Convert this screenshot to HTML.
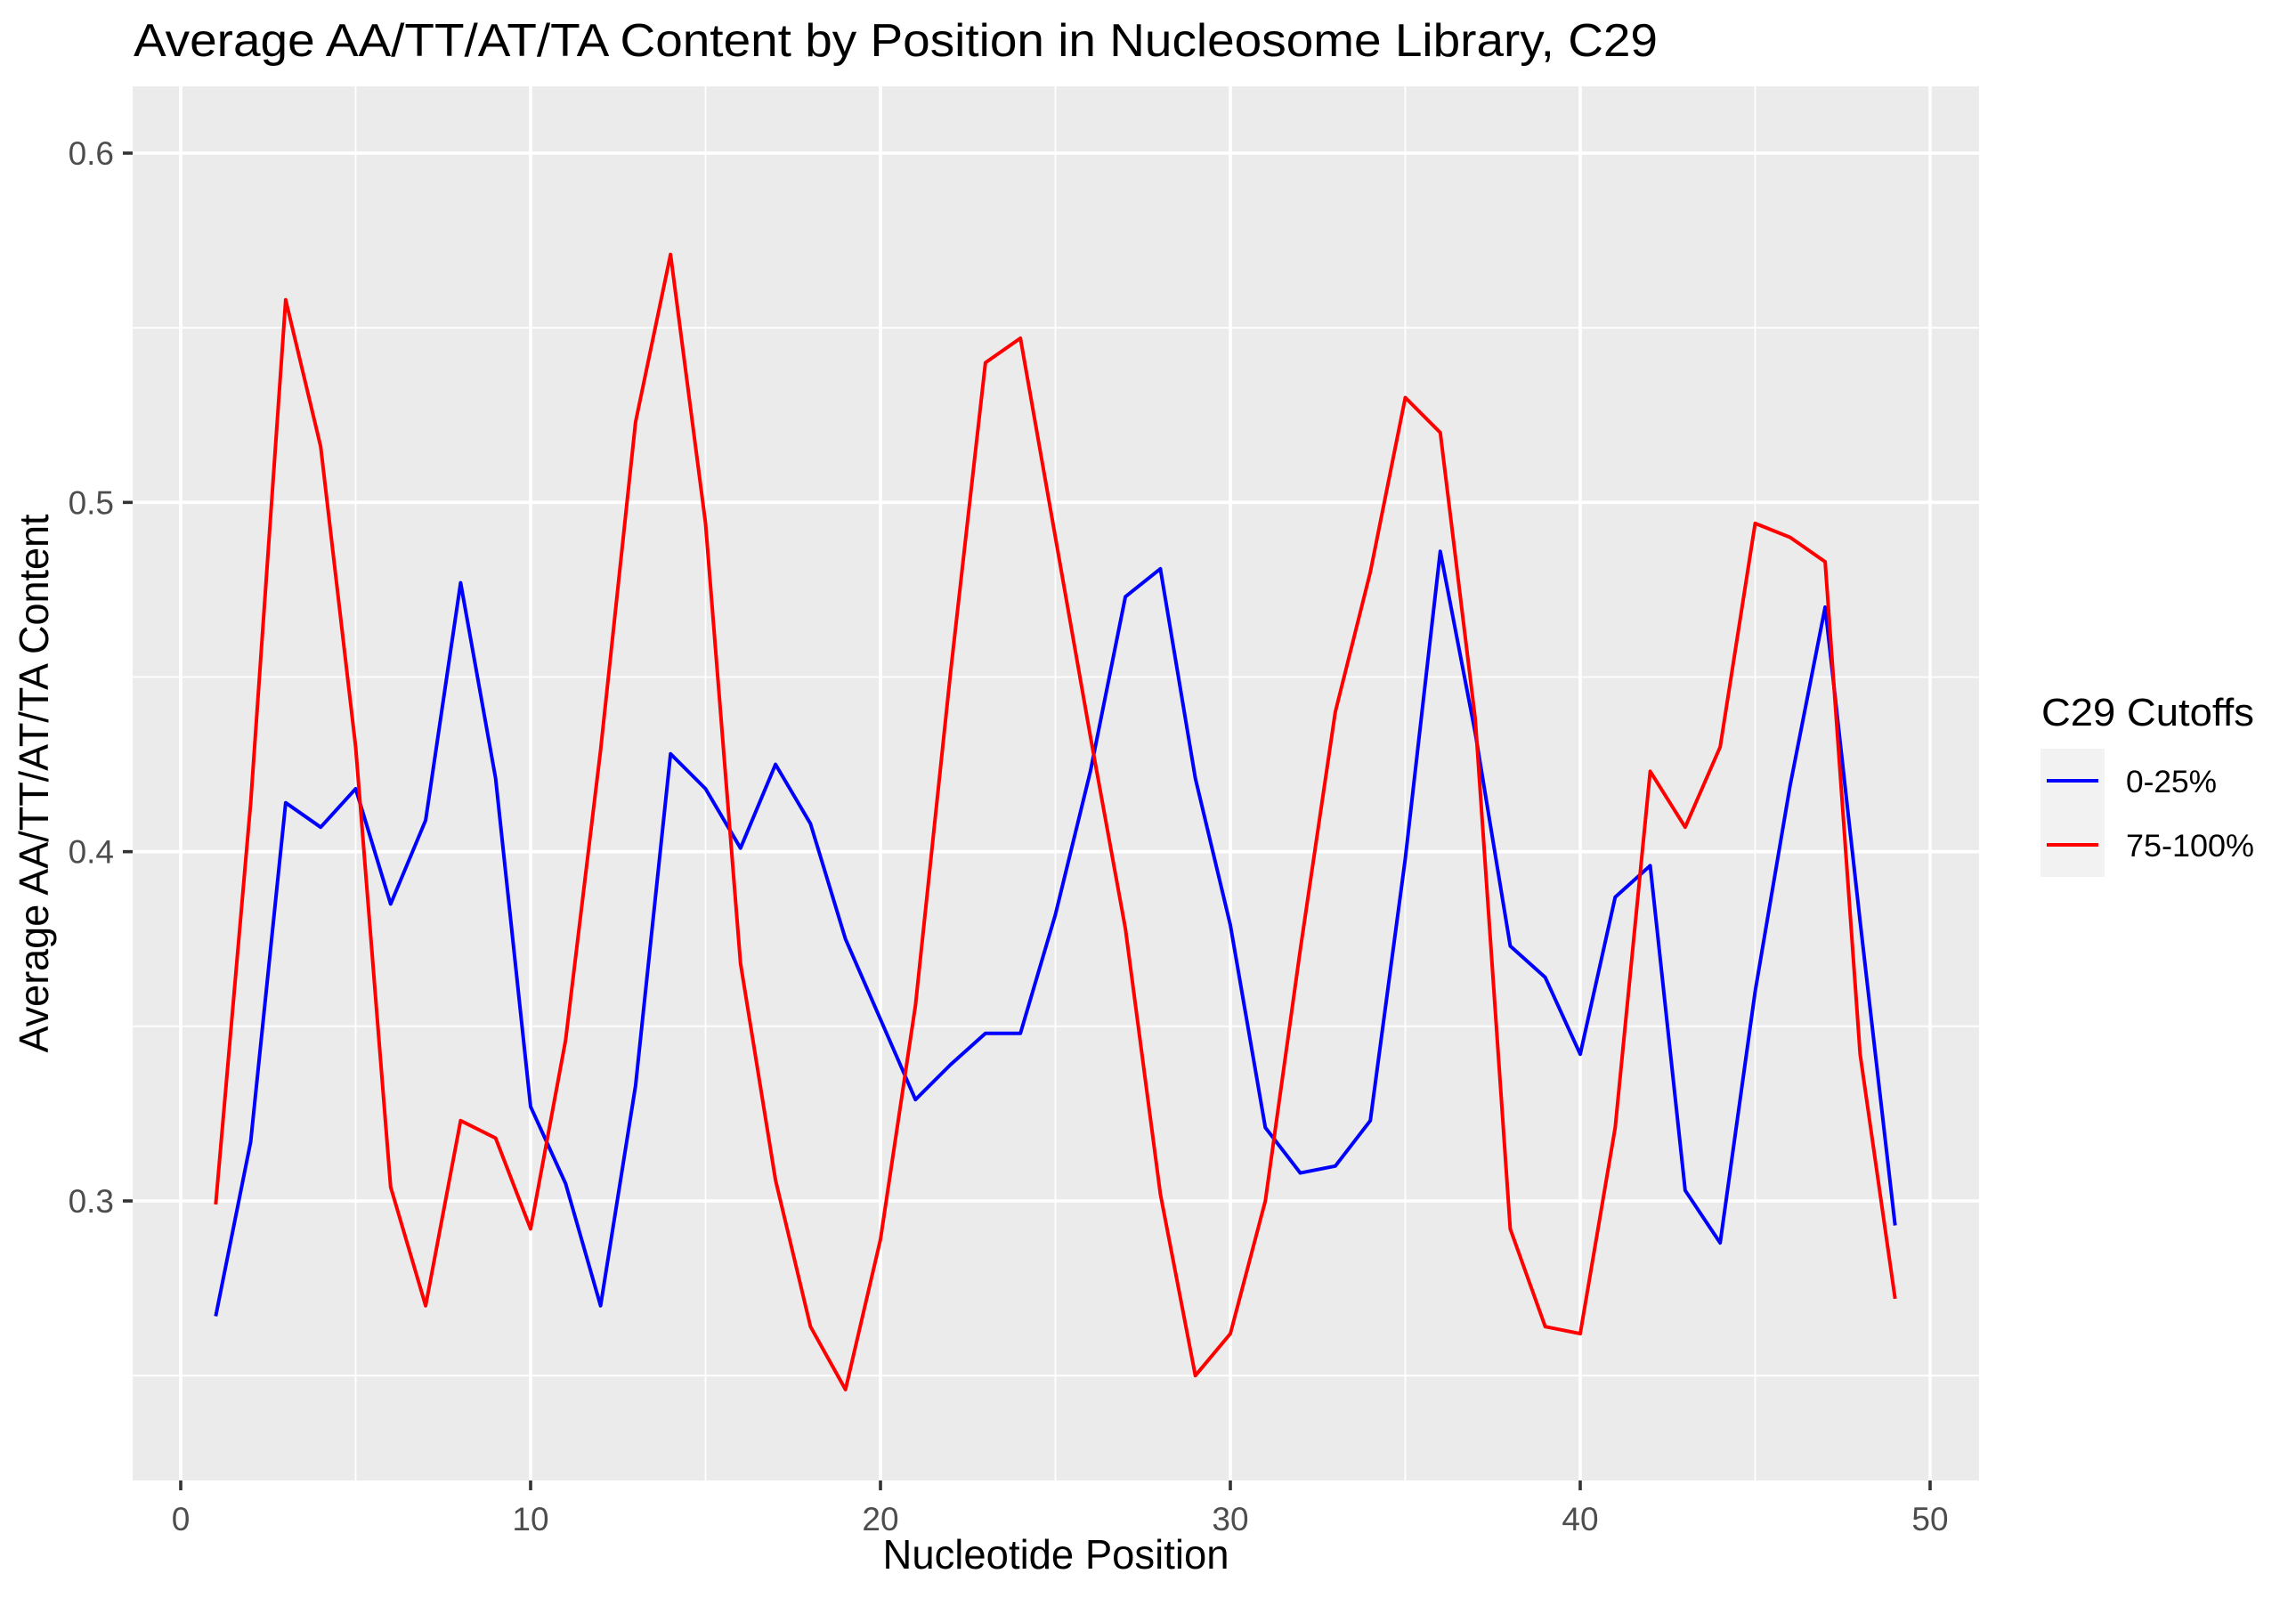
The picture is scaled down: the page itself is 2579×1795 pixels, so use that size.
<!DOCTYPE html>
<html><head><meta charset="utf-8"><style>
html,body{margin:0;padding:0;background:#fff;}
svg{display:block;font-family:"Liberation Sans",Arial,sans-serif;}
</style></head><body>
<svg id="chart" width="2579" height="1795" viewBox="0 0 2579 1795" xmlns="http://www.w3.org/2000/svg">
<rect x="0" y="0" width="2579" height="1795" fill="#fff"/>
<text x="150" y="63" font-size="52" textLength="1712" lengthAdjust="spacingAndGlyphs" fill="#000">Average AA/TT/AT/TA Content by Position in Nucleosome Library, C29</text>
<rect x="149" y="97" width="2074" height="1566" fill="#ebebeb"/>
<g id="grid"></g>
<g id="series"></g>
<g id="ticks"></g>
<text x="1186" y="1762" font-size="46" text-anchor="middle" textLength="389" lengthAdjust="spacingAndGlyphs" fill="#000">Nucleotide Position</text>
<text transform="translate(54,880) rotate(-90)" font-size="46" text-anchor="middle" textLength="605" lengthAdjust="spacingAndGlyphs" fill="#000">Average AA/TT/AT/TA Content</text>
<g>
<text x="2293" y="815" font-size="44" textLength="239" lengthAdjust="spacingAndGlyphs" fill="#000">C29 Cutoffs</text>
<rect x="2292" y="841" width="72" height="72" fill="#f2f2f2"/>
<rect x="2292" y="913" width="72" height="72" fill="#f2f2f2"/>
<line x1="2299" x2="2357" y1="877" y2="877" stroke="#0000ff" stroke-width="4"/>
<line x1="2299" x2="2357" y1="949" y2="949" stroke="#ff0000" stroke-width="4"/>
<text x="2388" y="890" font-size="35" textLength="102" lengthAdjust="spacingAndGlyphs" fill="#000">0-25%</text>
<text x="2388" y="962" font-size="35" textLength="144" lengthAdjust="spacingAndGlyphs" fill="#000">75-100%</text>
</g>
</svg>
<script>
const positions = [1,2,3,4,5,6,7,8,9,10,11,12,13,14,15,16,17,18,19,20,21,22,23,24,25,26,27,28,29,30,31,32,33,34,35,36,37,38,39,40,41,42,43,44,45,46,47,48,49];
const lowValues = [0.267,0.317,0.414,0.407,0.418,0.385,0.409,0.477,0.421,0.327,0.305,0.270,0.333,0.428,0.418,0.401,0.425,0.408,0.375,0.352,0.329,0.339,0.348,0.348,0.382,0.423,0.473,0.481,0.421,0.379,0.321,0.308,0.310,0.323,0.398,0.486,0.434,0.373,0.364,0.342,0.387,0.396,0.303,0.288,0.360,0.419,0.470,0.380,0.293];
const highValues = [0.299,0.414,0.558,0.516,0.430,0.304,0.270,0.323,0.318,0.292,0.346,0.429,0.523,0.571,0.494,0.368,0.306,0.264,0.246,0.289,0.356,0.451,0.540,0.547,0.490,0.433,0.378,0.302,0.250,0.262,0.300,0.372,0.440,0.480,0.530,0.520,0.438,0.292,0.264,0.262,0.321,0.423,0.407,0.430,0.494,0.490,0.483,0.342,0.272];
const xTicks = [0,10,20,30,40,50];
const xMinor = [5,15,25,35,45];
const yTicks = [0.3,0.4,0.5,0.6];
const yMinor = [0.25,0.35,0.45,0.55];

const NS="http://www.w3.org/2000/svg";
const PL=149,PR=2223,PT=97,PB=1663;
function xs(v){return 203+v*(2168-203)/50;}
function ys(v){return 1349-(v-0.3)*(1349-172)/0.3;}
function mk(tag,attrs,parent){const e=document.createElementNS(NS,tag);for(const k in attrs)e.setAttribute(k,attrs[k]);parent.appendChild(e);return e;}
const grid=document.getElementById('grid'),ticks=document.getElementById('ticks'),series=document.getElementById('series');
xMinor.forEach(v=>{const l=mk('line',{x1:xs(v),x2:xs(v),y1:PT,y2:PB,stroke:'#fff','stroke-width':1.8},grid);

});
yMinor.forEach(v=>{const l=mk('line',{x1:PL,x2:PR,y1:ys(v),y2:ys(v),stroke:'#fff','stroke-width':1.8},grid);

});
xTicks.forEach(v=>{const l=mk('line',{x1:xs(v),x2:xs(v),y1:PT,y2:PB,stroke:'#fff','stroke-width':3.6},grid);


const t=mk('line',{x1:xs(v),x2:xs(v),y1:PB,y2:PB+11,stroke:'#333','stroke-width':3.6},ticks);


const tx=mk('text',{x:xs(v),y:1719,'font-size':37,'text-anchor':'middle',fill:'#4d4d4d'},ticks);tx.textContent=v;

});
yTicks.forEach(v=>{const l=mk('line',{x1:PL,x2:PR,y1:ys(v),y2:ys(v),stroke:'#fff','stroke-width':3.6},grid);


const t=mk('line',{x1:PL-11,x2:PL,y1:ys(v),y2:ys(v),stroke:'#333','stroke-width':3.6},ticks);


const tx=mk('text',{x:PL-21,y:ys(v)+13,'font-size':37,'text-anchor':'end',fill:'#4d4d4d'},ticks);tx.textContent=v.toFixed(1);

});
function line(vals,color,name){const d=positions.map((p,i)=>(i?'L':'M')+xs(p).toFixed(1)+' '+ys(vals[i]).toFixed(1)).join(' ');
const p=mk('path',{d:d,fill:'none',stroke:color,'stroke-width':4,'stroke-linejoin':'round'},series);

}
line(lowValues,'#0000ff','series-0-25');
line(highValues,'#ff0000','series-75-100');
</script>
</body></html>
